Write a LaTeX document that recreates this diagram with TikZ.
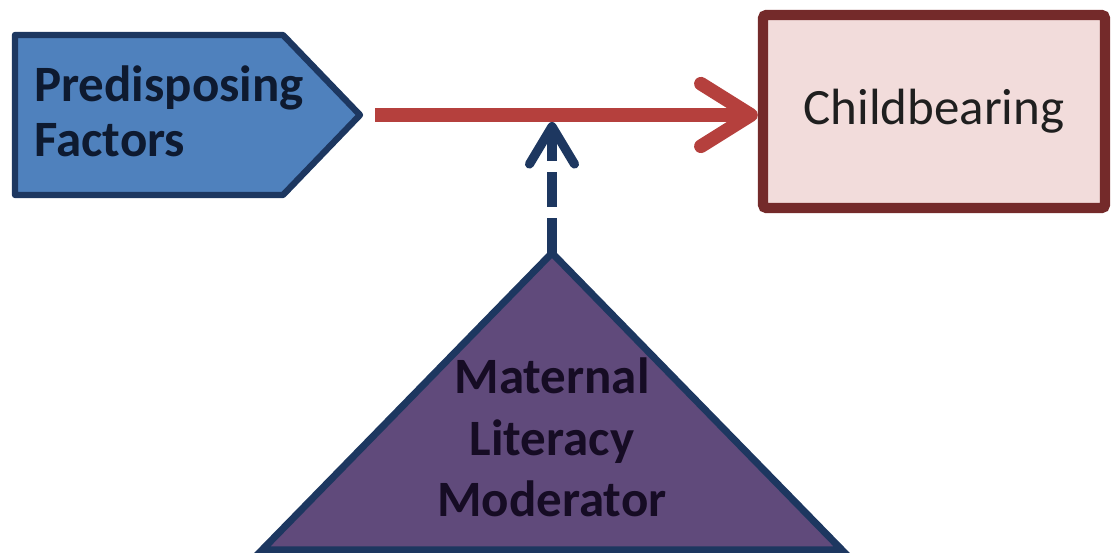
\documentclass[tikz,border=0pt]{standalone}
\usepackage{fontspec}
\setmainfont{Carlito}
\usetikzlibrary{arrows.meta,calc}
\definecolor{predfill}{HTML}{4F81BD}
\definecolor{navyline}{HTML}{1D3760}
\definecolor{arrowred}{HTML}{B5403D}
\definecolor{boxred}{HTML}{742A2A}
\definecolor{boxpink}{HTML}{F2DCDB}
\definecolor{modpurple}{HTML}{604A7B}
\definecolor{darkink}{HTML}{0E1A30}
\definecolor{purpink}{HTML}{160C24}
\begin{document}
\begin{tikzpicture}[
    boldtext/.style={font=\fontsize{29}{31}\selectfont\bfseries,inner sep=0pt},
    childbox/.style={draw=boxred,fill=boxpink,line width=5.9pt,rounded corners=2pt,
      minimum width=6.84cm,minimum height=3.86cm,font=\fontsize{29}{35}\selectfont}]
      \useasboundingbox (0,0) rectangle (22.28,11.06);
      % predisposing factors
      \coordinate (P1) at (0.3,10.36);
      \coordinate (P2) at (5.66,10.36);
      \coordinate (Ptip) at (7.2,8.76);
      \coordinate (P4) at (5.66,7.16);
      \coordinate (P5) at (0.3,7.16);
      \draw[navyline,fill=predfill,line width=3.6pt,line join=round]
        (P1)--(P2)--(Ptip)--(P4)--(P5)--cycle;
      \node[boldtext,text=darkink,align=left,anchor=west](pred) at (0.68,8.83)
        {Predisposing\\Factors};
      % childbearing
      \node[childbox,text=black!88](child) at (18.68,8.83){Childbearing};
      \coordinate (S) at (7.5,8.76);
      \draw[arrowred,line width=7.8pt,-{Straight Barb[length=1cm,width=1.25cm,round]}]
        (S)--(S -| child.west);
      % maternal literacy moderator
      \coordinate (T) at (11.04,6.0);
      \coordinate (BL) at (5.24,0.06);
      \coordinate (BR) at (16.84,0.06);
      \draw[navyline,fill=modpurple,line width=4pt] (T)--(BR)--(BL)--cycle;
      \node[boldtext,text=purpink,align=center,font=\fontsize{29}{35}\selectfont\bfseries]
        (mod) at (11.04,2.31) {Maternal\\Literacy\\Moderator};
      \coordinate (H) at (T |- S);
      \draw[navyline,line width=5.2pt,dash pattern=on 0.7cm off 0.22cm,shorten >=0.14cm,
        -{Straight Barb[length=0.75cm,width=0.9cm,round]}] (T)--(H);
\end{tikzpicture}
\end{document}
